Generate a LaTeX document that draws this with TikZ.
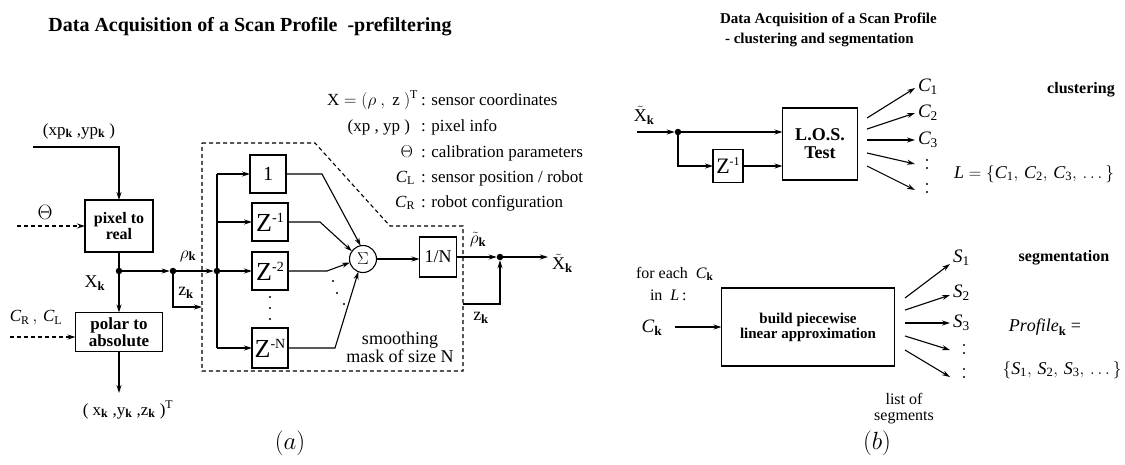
\documentclass[tikz,border=0pt]{standalone}
\usepackage{fontspec}
\setmainfont{Liberation Serif}
\usetikzlibrary{arrows.meta,calc}
\begin{document}
\begin{tikzpicture}[x=1pt,y=-1pt,
  every node/.style={inner sep=0pt, outer sep=0pt},
  fs/.style={font=\fontsize{#1}{#1}\selectfont},
  bfs/.style={font=\bfseries\fontsize{#1}{#1}\selectfont},
  blk/.style={draw, line width=1.1pt, align=center},
  ln/.style={line width=1.1pt},
  thk/.style={line width=2.4pt},
  arr/.style={-{Stealth[length=8pt,width=5pt]}},
  dsh/.style={line width=1.1pt, dash pattern=on 4pt off 3pt},
  jdot/.style={circle, fill, minimum size=6.5pt},
  sdot/.style={circle, fill, minimum size=2.4pt},
  zbox/.style={draw, line width=1.1pt, minimum width=36pt, minimum height=38pt},
]
\newcommand{\zz}[1]{{\fontsize{26}{26}\selectfont Z}\raisebox{9pt}{\fontsize{14}{14}\selectfont #1}}
\useasboundingbox (0,0) rectangle (1125,464);

% ================= (a) =================
\node[bfs=20] (ta) at (250,27) {Data Acquisition of a Scan Profile\ \ -prefiltering};

% legend
\node[fs=17, anchor=base east] (l1a) at (418,105) {$\mathrm{X} = (\rho\ ,\ \mathrm{z}\ )^{\mathrm{T}}$};
\node[fs=17, anchor=base west] (l1b) at (421,105) {: sensor coordinates};
\node[fs=17, anchor=base east] (l2a) at (410,131) {(xp , yp )};
\node[fs=17, anchor=base west] (l2b) at (421,131) {: pixel info};
\node[fs=17, anchor=base east] (l3a) at (413,157) {$\Theta$};
\node[fs=17, anchor=base west] (l3b) at (421,157) {: calibration parameters};
\node[fs=17, anchor=base east] (l4a) at (415,182) {$\mathit{C}_{\mathrm{L}}$};
\node[fs=17, anchor=base west] (l4b) at (421,182) {: sensor position / robot};
\node[fs=17, anchor=base east] (l5a) at (415,207) {$\mathit{C}_{\mathrm{R}}$};
\node[fs=17, anchor=base west] (l5b) at (421,207) {: robot configuration};

% input side
\node[fs=17] (xyp) at (79,131) {(x$\mathrm{p}_{\mathbf{k}}$ ,y$\mathrm{p}_{\mathbf{k}}$ )};
\coordinate (in1) at (33,147);
\node[blk, bfs=16, minimum width=68pt, minimum height=52pt] (pix) at (119,226) {pixel to\\real};
\node[blk, bfs=17, minimum width=87pt, minimum height=39pt] (pol) at (119,332) {polar to\\absolute};
\node[fs=20] (th) at (45,212) {$\Theta$};
\coordinate (th0) at (17,226);
\node[fs=17] (crl) at (36,318) {$\mathit{C}_{\mathrm{R}}\,,\,\mathit{C}_{\mathrm{L}}$};
\coordinate (cr0) at (10,337);
\node[jdot] (jA) at (119,271) {};
\node[jdot] (jB) at (173,271) {};
\node[jdot] (jC) at (217,271) {};
\node[fs=18] (xk) at (95,283) {$\mathrm{X}_{\mathbf{k}}$};
\node[fs=18] (rk) at (188,256) {$\rho_{\mathbf{k}}$};
\node[fs=18] (zk1l) at (186,293) {$\mathrm{z}_{\mathbf{k}}$};
\coordinate (zk1) at (202,307);
\coordinate (out1) at (119,393);
\node[fs=17] (xyz) at (128,410) {( $\mathrm{x}_{\mathbf{k}}$ ,$\mathrm{y}_{\mathbf{k}}$ ,$\mathrm{z}_{\mathbf{k}}$ )$^{\mathrm{T}}$};
\node[fs=26] (la) at (290,443) {$(a)$};

\draw[thk, arr] (in1) -| (pix.north);
\draw[ln, dsh, arr] (th0) -- (pix.west);
\draw[thk] (pix.south) -- (jA);
\draw[thk, arr] (jA) -- (pol.north);
\draw[ln, dsh, arr] (cr0) -- (cr0 -| pol.west);
\draw[ln, arr] (pol.south) -- (out1);
\draw[thk, arr] (jA) -- (jB);
\draw[ln, arr] (jB) -- (jC);
\draw[ln, arr] (jB) |- (zk1);

% smoothing mask (dashed region)
\draw[dsh] (202,143) -- (315,143) -- (390,226) -- (463,226) -- (463,371) -- (202,371) -- cycle;
\node[zbox, fs=20] (b0) at (268,174) {1};
\node[zbox] (b1) at (270,222) {\zz{-1}};
\node[zbox] (b2) at (270,271) {\zz{-2}};
\node[zbox, minimum height=40pt] (bN) at (270,348) {\zz{-N}};
\coordinate (v0) at (217,174);
\coordinate (v1) at (217,222);
\coordinate (vN) at (217,348);
\draw[ln] (v0) -- (vN);
\draw[ln, arr] (v0) -- (b0.west);
\draw[ln, arr] (v1) -- (b1.west);
\draw[ln, arr] (jC) -- (b2.west);
\draw[ln, arr] (vN) -- (bN.west);
\node[sdot] (d1) at (270,297) {};
\node[sdot] (d2) at (270,308) {};
\node[sdot] (d3) at (270,319) {};

\node[draw, circle, line width=1.1pt, minimum size=27pt, fs=18] (sig) at (363,259) {$\Sigma$};
\coordinate (c0) at (322,174);
\coordinate (c1) at (320,222);
\coordinate (c2) at (327,271);
\coordinate (cN) at (335,348);
\draw[ln, arr] (b0.east) -- (c0) -- (sig.100);
\draw[ln, arr] (b1.east) -- (c1) -- (sig.145);
\draw[ln, arr] (b2.east) -- (c2) -- (sig.195);
\draw[ln, arr] (bN.east) -- (cN) -- (sig.250);
\node[sdot] (e1) at (333,281) {};
\node[sdot] (e2) at (337,293) {};
\node[sdot] (e3) at (344,304) {};
\node[fs=18, align=center] (smo) at (400,347) {smoothing\\mask of size N};

\node[zbox, fs=18, minimum width=37pt, minimum height=40pt] (n1) at (438,257) {1/N};
\draw[ln, arr] (sig.east) -- (sig.east -| n1.west);
\node[jdot] (jD) at (500,257) {};
\draw[ln, arr] (n1.east) -- (jD);
\node[fs=18] (rtk) at (478,240) {$\tilde{\rho}_{\mathbf{k}}$};
\coordinate (out2) at (548,257);
\draw[thk, arr] (jD) -- (out2);
\node[fs=18, anchor=west] (xtk) at (552,263) {$\tilde{\mathrm{X}}_{\mathbf{k}}$};
\coordinate (zk2) at (463,304);
\draw[ln, arr] (zk2) -| (jD);
\node[fs=18] (zk2l) at (481,318) {$\mathrm{z}_{\mathbf{k}}$};

% ================= (b) =================
\node[bfs=15, anchor=west] (tb1) at (720,20) {Data Acquisition of a Scan Profile};
\node[bfs=15, anchor=west] (tb2) at (725,40) {- clustering and segmentation};

\coordinate (xin) at (637,132);
\node[jdot] (jE) at (678,132) {};
\node[fs=18] (xtk2) at (644,115) {$\tilde{\mathrm{X}}_{\mathbf{k}}$};
\node[blk, bfs=18, minimum width=75pt, minimum height=72pt] (los) at (820,144) {L.O.S.\\Test};
\node[zbox, minimum width=30pt, minimum height=33pt] (zb) at (728,166) {{\fontsize{22}{22}\selectfont Z}\raisebox{8pt}{\fontsize{12}{12}\selectfont -1}};
\draw[thk, arr] (xin) -- (jE);
\draw[ln, arr] (jE) -- (jE -| los.west);
\draw[ln, arr] (jE) |- (zb.west);
\draw[ln, arr] (zb.east) -- (zb.east -| los.west);

\coordinate (fs1) at (867,118); \coordinate (fe1) at (915,88);
\coordinate (fs2) at (867,129); \coordinate (fe2) at (915,113);
\coordinate (fs3) at (867,140); \coordinate (fe3) at (915,140);
\coordinate (fs4) at (867,153); \coordinate (fe4) at (915,164);
\coordinate (fs5) at (867,166); \coordinate (fe5) at (915,190);
\foreach \i in {1,...,5} {\draw[ln, arr] (fs\i) -- (fe\i);}
\node[fs=19, anchor=west] (C1) at (918,87) {$\mathit{C}_{\mathrm{1}}$};
\node[fs=19, anchor=west] (C2) at (918,113) {$\mathit{C}_{\mathrm{2}}$};
\node[fs=19, anchor=west] (C3) at (918,140) {$\mathit{C}_{\mathrm{3}}$};
\node[sdot] (g1) at (927,160) {};
\node[sdot] (g2) at (927,168) {};
\node[sdot] (g3) at (927,184) {};
\node[sdot] (g4) at (927,192) {};
\node[bfs=16] (clu) at (1081,90) {clustering};
\node[fs=18] (Ll) at (1034,174) {$\mathit{L} = \{\mathit{C}_{\mathrm{1}},\, \mathit{C}_{\mathrm{2}},\, \mathit{C}_{\mathrm{3}},\, \dots\, \}$};

\node[fs=16, anchor=base west] (fe) at (636,278) {for each\ \ $\mathit{C}_{\mathbf{k}}$};
\node[fs=16, anchor=base west] (inl) at (650,300) {in\ \ $\mathit{L}\,$:};
\node[fs=19] (Ck) at (652,328) {$\mathit{C}_{\mathbf{k}}$};
\node[blk, bfs=15, minimum width=173pt, minimum height=78pt] (bld) at (808,327) {build piecewise\\linear approximation};
\coordinate (ck0) at (675,327);
\draw[ln, arr] (ck0) -- (bld.west);

\coordinate (hs1) at (905,298); \coordinate (he1) at (950,264);
\coordinate (hs2) at (905,310); \coordinate (he2) at (950,295);
\coordinate (hs3) at (905,323); \coordinate (he3) at (950,323);
\coordinate (hs4) at (905,336); \coordinate (he4) at (950,350);
\coordinate (hs5) at (905,350); \coordinate (he5) at (950,377);
\foreach \i in {1,...,5} {\draw[ln, arr] (hs\i) -- (he\i);}
\node[fs=19, anchor=west] (S1) at (953,258) {$\mathit{S}_{\mathrm{1}}$};
\node[fs=19, anchor=west] (S2) at (953,293) {$\mathit{S}_{\mathrm{2}}$};
\node[fs=19, anchor=west] (S3) at (953,323) {$\mathit{S}_{\mathrm{3}}$};
\node[sdot] (h1) at (964,345) {};
\node[sdot] (h2) at (964,353) {};
\node[sdot] (h3) at (964,369) {};
\node[sdot] (h4) at (964,377) {};
\node[bfs=16] (seg) at (1064,258) {segmentation};
\node[fs=18] (prof) at (1045,327) {$\mathit{Profile}_{\mathbf{k}}$ =};
\node[fs=18] (sl) at (1062,370) {$\{\mathit{S}_{\mathrm{1}},\, \mathit{S}_{\mathrm{2}},\, \mathit{S}_{\mathrm{3}},\, \dots\, \}$};
\node[fs=16, align=center] (lst) at (904,409) {list of\\segments};
\node[fs=26] (lb) at (877,443) {$(b)$};
\end{tikzpicture}
\end{document}
